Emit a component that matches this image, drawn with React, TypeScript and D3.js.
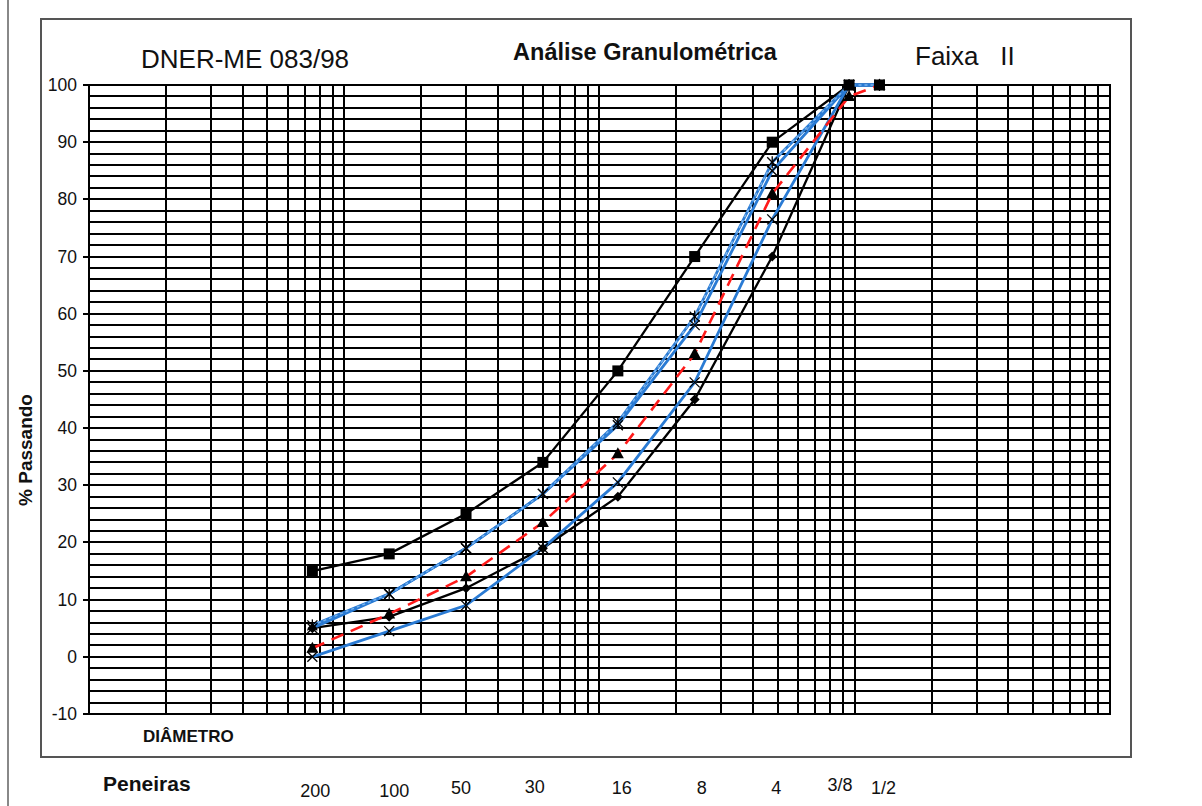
import React from "react";
import * as d3 from "d3";

// Sieve names and openings (mm)
const sieveLabels = ["200", "100", "50", "30", "16", "8", "4", "3/8", "1/2"];
const sieveOpenings = [0.075, 0.15, 0.3, 0.6, 1.18, 2.36, 4.75, 9.5, 12.5];

// % passing values
const upperLimit = [15, 18, 25, 34, 50, 70, 90, 100, 100];
const lowerLimit = [5, 7, 12, 19, 28, 45, 70, 100, 100];
const projectCurve = [1.5, 7.5, 14, 23.5, 35.5, 53, 81, 98, 100];
const blueLower = [0, 4.5, 9, 19, 30.5, 48, 76.5, 100, 100];
const blueUpperA = [5, 11, 19, 28.5, 40.5, 58, 85, 100, 100];
const blueUpperB = [5.5, 11, 19, 28.5, 41, 59.5, 86.5, 100, 100];

const yTicks = [-10, 0, 10, 20, 30, 40, 50, 60, 70, 80, 90, 100];

const W = 1202;
const H = 806;
const FONT = "Arial, 'Liberation Sans', sans-serif";
const labelNudge = [3, 5, -5, -8, 4, 7, 4, -9, 4];
const labelBase = [797, 797, 794, 793, 794, 794, 794, 791, 794];

export default function App() {
  const x = d3.scaleLog().domain([0.01, 100]).range([89, 1110]);
  const y = d3.scaleLinear().domain([-10, 100]).range([714, 85]);

  const hGrid = d3.range(-10, 100.001, 2);
  const vGrid: number[] = [];
  [0.01, 0.1, 1, 10].forEach((dec) => {
    for (let k = 1; k <= 9; k++) vGrid.push(dec * k);
  });
  vGrid.push(100);

  const line = d3
    .line<number>()
    .x((_, i) => x(sieveOpenings[i]))
    .y((v) => y(v));

  const pts = (vals: number[]) => vals.map((v, i) => [x(sieveOpenings[i]), y(v)] as [number, number]);

  const xMark = (cx: number, cy: number, key: string, star = false) => (
    <g key={key} stroke="#000" strokeWidth={1.3}>
      <line x1={cx - 5} y1={cy - 5} x2={cx + 5} y2={cy + 5} />
      <line x1={cx - 5} y1={cy + 5} x2={cx + 5} y2={cy - 5} />
      {star && <line x1={cx} y1={cy - 6} x2={cx} y2={cy + 6} />}
    </g>
  );

  const blue = "#2a7bd4";

  return (
    <svg width={W} height={H} style={{ position: "absolute", left: 0, top: 0, background: "#fff" }}>
      <rect x={0} y={0} width={W} height={H} fill="#fff" />
      {/* page margin line */}
      <line x1={8} y1={0} x2={8} y2={H} stroke="#888" strokeWidth={2} />
      {/* chart frame */}
      <rect x={41} y={19} width={1090} height={738} fill="none" stroke="#555" strokeWidth={2} />

      {/* titles */}
      <text x={141} y={68} fontFamily={FONT} fontSize={26} fill="#111">DNER-ME 083/98</text>
      <text x={645} y={60} fontFamily={FONT} fontSize={23.5} fontWeight="bold" textAnchor="middle" fill="#111">
        Análise Granulométrica
      </text>
      <text x={915} y={65} fontFamily={FONT} fontSize={26} fill="#111" style={{ whiteSpace: "pre" }}>
        {"Faixa   II"}
      </text>

      {/* grid */}
      <g shapeRendering="crispEdges">
        {hGrid.map((v) => (
          <line key={"h" + v} x1={89} x2={1110} y1={Math.round(y(v))} y2={Math.round(y(v))} stroke="#000" strokeWidth={1.2} />
        ))}
        {vGrid.map((v, i) => (
          <line key={"v" + i} x1={Math.round(x(v))} x2={Math.round(x(v))} y1={85} y2={714} stroke="#000" strokeWidth={1.2} />
        ))}
        <rect x={89} y={85} width={1021} height={629} fill="none" stroke="#000" strokeWidth={2} />
        {yTicks.map((t) => (
          <line key={"t" + t} x1={83} x2={89} y1={Math.round(y(t))} y2={Math.round(y(t))} stroke="#000" strokeWidth={1.5} />
        ))}
      </g>

      {/* y tick labels */}
      {yTicks.map((t) => (
        <text key={"yl" + t} x={77} y={y(t) + 6} fontFamily={FONT} fontSize={17.5} textAnchor="end" fill="#111">
          {t}
        </text>
      ))}
      <text
        transform={`translate(32,450) rotate(-90)`}
        fontFamily={FONT}
        fontSize={19}
        fontWeight="bold"
        textAnchor="middle"
        fill="#111"
      >
        % Passando
      </text>

      <text x={143} y={742} fontFamily={FONT} fontSize={17} fontWeight="bold" fill="#111">DIÂMETRO</text>
      <text x={103} y={791} fontFamily={FONT} fontSize={21} fontWeight="bold" fill="#111">Peneiras</text>
      {sieveLabels.map((s, i) => (
        <text
          key={"s" + s}
          x={x(sieveOpenings[i]) + labelNudge[i]}
          y={labelBase[i]}
          fontFamily={FONT}
          fontSize={18}
          textAnchor="middle"
          fill="#111"
        >
          {s}
        </text>
      ))}

      {/* series lines */}
      <path d={line(upperLimit) || ""} fill="none" stroke="#000" strokeWidth={2.3} />
      <path d={line(lowerLimit) || ""} fill="none" stroke="#000" strokeWidth={2.3} />
      <path d={line(blueLower) || ""} fill="none" stroke={blue} strokeWidth={2.8} />
      <path d={line(blueUpperA) || ""} fill="none" stroke={blue} strokeWidth={2.8} />
      <path d={line(blueUpperB) || ""} fill="none" stroke={blue} strokeWidth={2.8} />
      <path d={line(blueUpperB) || ""} fill="none" stroke="#7db6ee" strokeWidth={1.4} strokeDasharray="3,3" />
      <path d={line(projectCurve) || ""} fill="none" stroke="#ff1a1a" strokeWidth={2.6} strokeDasharray="13,8" />

      {/* markers */}
      {pts(upperLimit).map(([cx, cy], i) => (
        <rect key={"sq" + i} x={cx - 5.5} y={cy - 5.5} width={11} height={11} fill="#000" />
      ))}
      {pts(lowerLimit).map(([cx, cy], i) => (
        <path key={"dm" + i} d={`M${cx},${cy - 5}L${cx + 5},${cy}L${cx},${cy + 5}L${cx - 5},${cy}Z`} fill="#000" />
      ))}
      {pts(projectCurve).map(([cx, cy], i) => (
        <path key={"tr" + i} d={`M${cx},${cy - 6.5}L${cx + 6},${cy + 4.5}L${cx - 6},${cy + 4.5}Z`} fill="#000" />
      ))}
      {pts(blueLower).map(([cx, cy], i) => xMark(cx, cy, "bl" + i))}
      {pts(blueUpperA).map(([cx, cy], i) => xMark(cx, cy, "ba" + i))}
      {pts(blueUpperB).map(([cx, cy], i) => xMark(cx, cy, "bb" + i, true))}
    </svg>
  );
}
